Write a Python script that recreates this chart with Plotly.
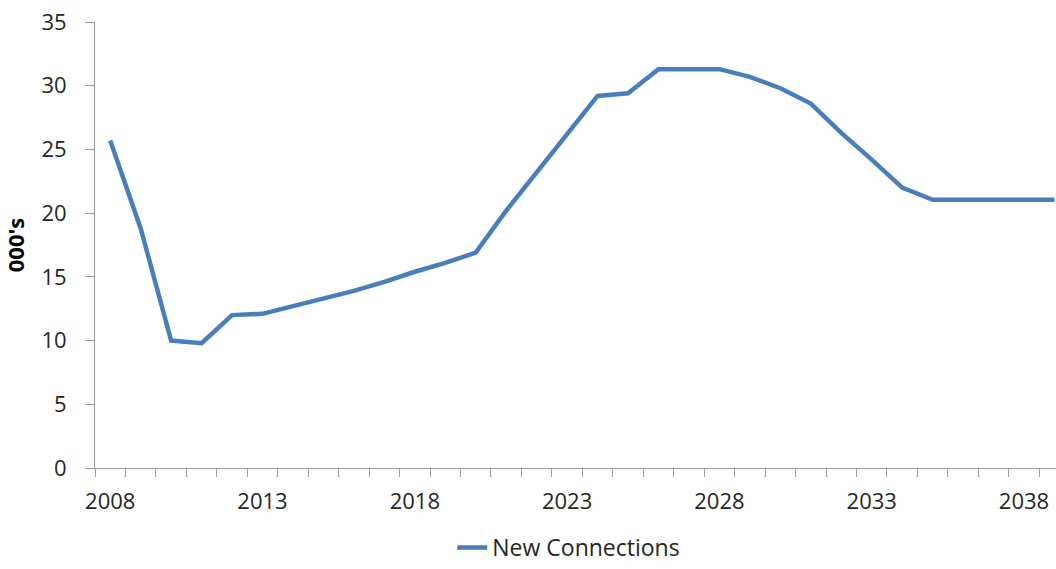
import plotly.graph_objects as go

# Annual new connections (thousands)
years = list(range(2008, 2040))
new_connections = [
    25.7, 18.8, 10.0, 9.8, 12.0, 12.1, 12.7, 13.3, 13.9, 14.6,
    15.4, 16.1, 16.9, 20.2, 23.2, 26.2, 29.2, 29.4, 31.3, 31.3,
    31.3, 30.7, 29.8, 28.6, 26.3, 24.2, 22.0, 21.05, 21.05, 21.05,
    21.05, 21.05,
]
label_years = [2008, 2013, 2018, 2023, 2028, 2033, 2038]

FONT = "Open Sans"
AXIS_GREY = "#9a9a9a"
TEXT = "#262626"

fig = go.Figure()
fig.add_trace(go.Scatter(
    x=years,
    y=new_connections,
    mode="lines",
    name="New Connections",
    line=dict(color="#4a7ebb", width=4.5),
))

fig.update_layout(
    width=1056,
    height=569,
    margin=dict(l=95, r=0, t=22, b=101, autoexpand=False),
    paper_bgcolor="white",
    plot_bgcolor="white",
    font=dict(family=FONT, size=22, color=TEXT),
    showlegend=True,
    legend=dict(
        orientation="h",
        x=0.493, xanchor="center",
        y=-0.2265, yanchor="bottom",
        font=dict(family=FONT, size=23, color=TEXT),
    ),
)

fig.update_xaxes(
    range=[2007.5, 2039.05],
    tickmode="array",
    tickvals=label_years,
    ticktext=[str(y) for y in label_years],
    ticks="outside",
    ticklen=0,
    ticklabelstandoff=14,
    showline=True,
    linecolor=AXIS_GREY,
    linewidth=1,
    showgrid=False,
    zeroline=False,
    minor=dict(tick0=2007.5, dtick=1, ticks="outside", ticklen=8,
               tickcolor=AXIS_GREY, showgrid=False),
)

fig.update_yaxes(
    range=[0, 35],
    tickvals=[0, 5, 10, 15, 20, 25, 30, 35],
    ticks="outside",
    ticklen=9,
    tickcolor=AXIS_GREY,
    ticklabelstandoff=14,
    showline=True,
    linecolor=AXIS_GREY,
    linewidth=1,
    showgrid=False,
    zeroline=False,
    title=dict(text="<b>000's</b>", standoff=12,
               font=dict(family=FONT, size=22, color="black")),
)

fig.write_html("out.html")
